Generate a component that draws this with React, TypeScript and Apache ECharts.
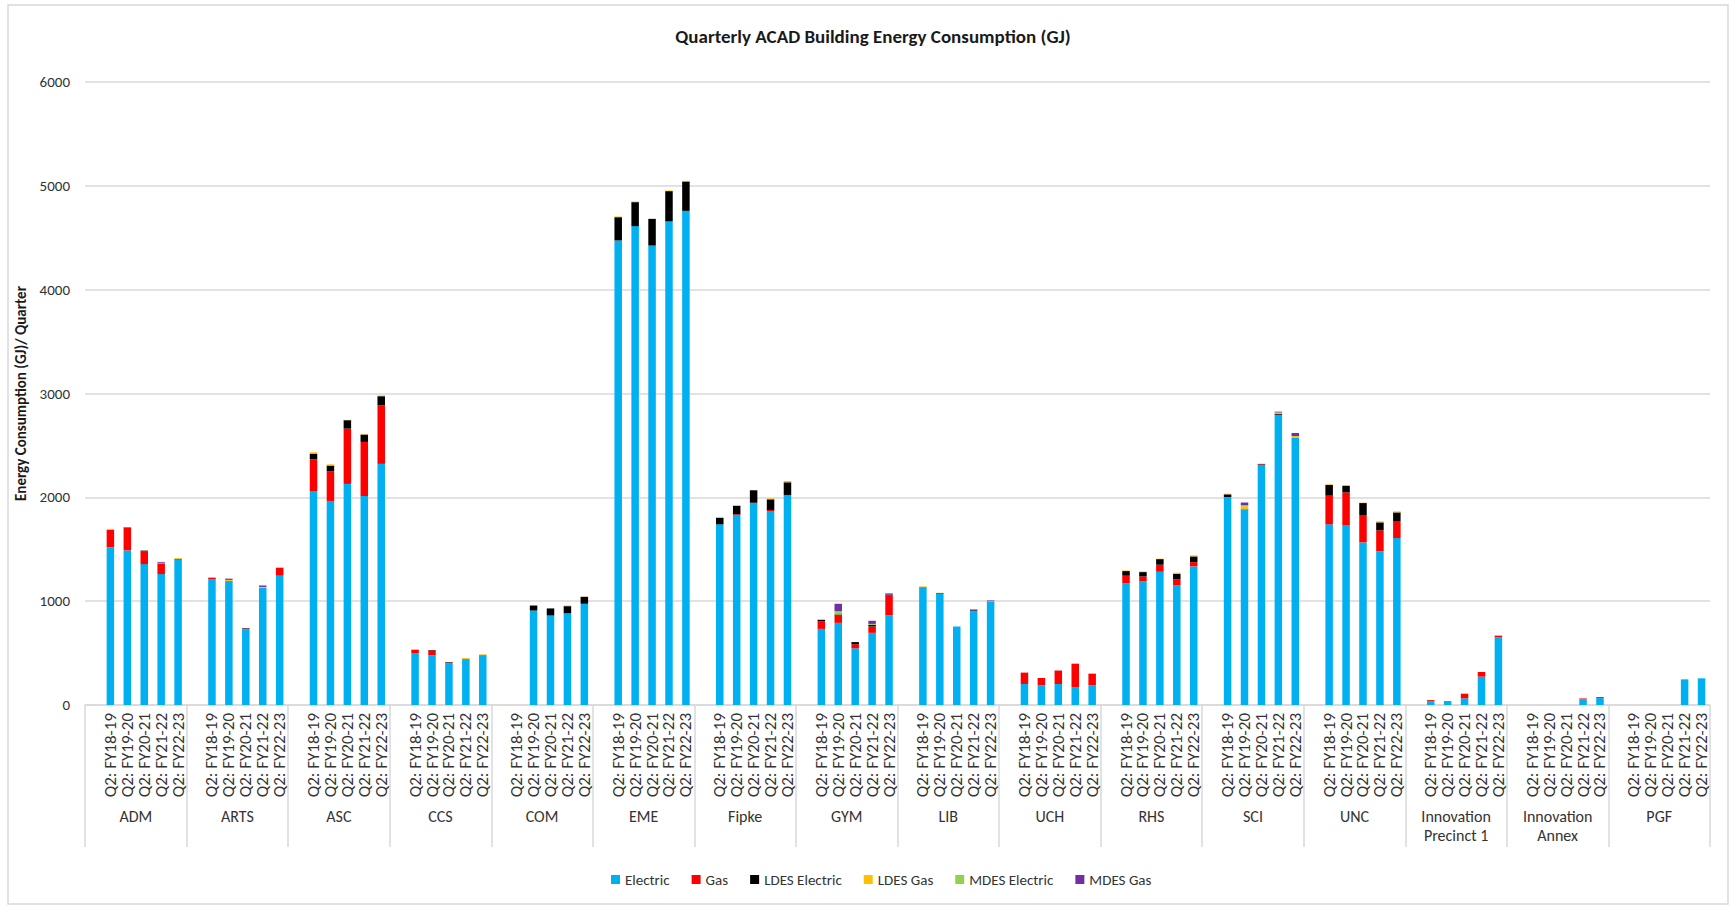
import React, { useEffect, useRef } from 'react';
import * as echarts from 'echarts';

const buildings = ['ADM', 'ARTS', 'ASC', 'CCS', 'COM', 'EME', 'Fipke', 'GYM', 'LIB', 'UCH', 'RHS', 'SCI', 'UNC', 'Innovation\nPrecinct 1', 'Innovation\nAnnex', 'PGF'];
const quarters = ['Q2: FY18-19', 'Q2: FY19-20', 'Q2: FY20-21', 'Q2: FY21-22', 'Q2: FY22-23'];
const yTicks = [0, 1000, 2000, 3000, 4000, 5000, 6000];

// one row per building, one value per quarter (GJ)
const electric = [
  [1520, 1489, 1357, 1261, 1399],
  [1209, 1190, 730, 1129, 1245],
  [2061, 1965, 2129, 2013, 2322],
  [500, 480, 400, 440, 478],
  [0, 910, 862, 885, 975],
  [4474, 4612, 4420, 4657, 4759],
  [1740, 1830, 1942, 1868, 2016],
  [733, 791, 546, 695, 865],
  [1132, 1071, 756, 904, 994],
  [202, 190, 202, 173, 190],
  [1174, 1193, 1283, 1155, 1335],
  [2003, 1881, 2312, 2794, 2576],
  [1740, 1730, 1566, 1479, 1608],
  [35, 38, 64, 273, 652],
  [0, 0, 0, 55, 67],
  [0, 0, 0, 247, 257],
];
const gas = [
  [168, 219, 122, 103, 8],
  [14, 5, 5, 0, 77],
  [306, 286, 533, 521, 565],
  [30, 45, 8, 5, 4],
  [0, 0, 0, 0, 0],
  [0, 0, 8, 0, 0],
  [0, 6, 6, 10, 7],
  [74, 71, 40, 62, 190],
  [4, 0, 0, 0, 0],
  [110, 70, 130, 225, 112],
  [71, 45, 68, 57, 41],
  [0, 5, 5, 0, 0],
  [276, 318, 264, 203, 164],
  [12, 0, 45, 45, 16],
  [0, 0, 0, 8, 9],
  [0, 0, 0, 0, 0],
];
const ldesElectric = [
  [0, 0, 8, 0, 0],
  [0, 0, 5, 0, 0],
  [54, 55, 81, 71, 87],
  [0, 5, 5, 0, 0],
  [0, 48, 68, 67, 67],
  [224, 231, 254, 292, 283],
  [61, 81, 120, 103, 122],
  [13, 10, 20, 14, 8],
  [0, 6, 0, 8, 0],
  [0, 0, 0, 0, 0],
  [45, 42, 54, 52, 55],
  [26, 0, 5, 8, 0],
  [103, 61, 115, 77, 83],
  [0, 0, 0, 0, 0],
  [0, 0, 0, 0, 0],
  [0, 0, 0, 0, 0],
];
const ldesGas = [
  [8, 0, 0, 0, 8],
  [10, 10, 0, 8, 6],
  [13, 12, 3, 6, 7],
  [8, 0, 0, 8, 6],
  [0, 0, 0, 6, 3],
  [7, 6, 0, 6, 6],
  [9, 9, 0, 9, 13],
  [6, 0, 0, 0, 0],
  [6, 4, 0, 0, 5],
  [0, 0, 0, 0, 0],
  [6, 6, 4, 10, 10],
  [6, 28, 0, 15, 14],
  [7, 10, 4, 10, 10],
  [0, 0, 0, 0, 0],
  [0, 0, 0, 0, 0],
  [0, 0, 0, 0, 0],
];
const mdesElectric = [
  [0, 0, 0, 6, 0],
  [0, 0, 0, 0, 0],
  [0, 0, 0, 0, 0],
  [0, 0, 0, 0, 0],
  [0, 0, 0, 0, 0],
  [0, 0, 0, 0, 0],
  [0, 0, 0, 0, 0],
  [0, 32, 0, 10, 0],
  [0, 0, 0, 0, 0],
  [0, 0, 0, 0, 0],
  [0, 0, 0, 0, 0],
  [0, 10, 0, 0, 0],
  [0, 0, 0, 0, 0],
  [0, 0, 0, 0, 0],
  [0, 0, 0, 0, 0],
  [0, 0, 0, 0, 0],
];
const mdesGas = [
  [0, 5, 0, 8, 0],
  [0, 12, 0, 14, 0],
  [0, 0, 0, 0, 0],
  [0, 0, 0, 0, 0],
  [0, 0, 0, 0, 0],
  [0, 0, 0, 0, 0],
  [0, 0, 0, 0, 0],
  [0, 71, 0, 30, 12],
  [0, 0, 0, 8, 8],
  [0, 0, 0, 0, 0],
  [0, 0, 0, 0, 0],
  [0, 26, 0, 8, 30],
  [0, 0, 0, 0, 0],
  [0, 0, 0, 0, 0],
  [0, 0, 0, 0, 0],
  [0, 0, 0, 0, 0],
];

const seriesNames = ['Electric', 'Gas', 'LDES Electric', 'LDES Gas', 'MDES Electric', 'MDES Gas'];
const seriesColors = ['#00B0F0', '#FF0000', '#000000', '#FFC000', '#92D050', '#7030A0'];
const seriesData = [electric, gas, ldesElectric, ldesGas, mdesElectric, mdesGas];

const FONT = 'Carlito, Lato, "Liberation Sans", sans-serif';
const TEXT = '#333333';
const LINE = '#d9d9d9';

export default function App() {
  const ref = useRef<HTMLDivElement>(null);
  useEffect(() => {
    document.body.style.margin = '0';
    const chart = echarts.init(ref.current!, null, { renderer: 'svg' });
    const slots: string[] = [];
    buildings.forEach(() => {
      slots.push('');
      quarters.forEach((q) => slots.push(q));
    });
    const toSlots = (rows: number[][]) => {
      const out: (number | null)[] = [];
      rows.forEach((r) => {
        out.push(null);
        r.forEach((v) => out.push(v));
      });
      return out;
    };
    chart.setOption({
      animation: false,
      textStyle: { fontFamily: FONT },
      grid: { left: 85, right: 22, top: 82, bottom: 203, containLabel: false },
      graphic: [
        {
          type: 'rect',
          silent: true,
          z: -10,
          shape: { x: 8, y: 5, width: 1720, height: 899 },
          style: { fill: 'none', stroke: LINE, lineWidth: 1.5 },
        },
        {
          type: 'text',
          x: 873,
          y: 36,
          style: {
            text: 'Quarterly ACAD Building Energy Consumption (GJ)',
            fontFamily: FONT,
            fontSize: 19,
            fontWeight: 'bold',
            fill: '#1a1a1a',
            textAlign: 'center',
            textVerticalAlign: 'middle',
          },
        },
      ],
      legend: {
        data: seriesNames,
        top: 867,
        left: 606,
        icon: 'rect',
        itemWidth: 9,
        itemHeight: 9,
        itemGap: 22,
        textStyle: { fontSize: 15, color: TEXT, fontFamily: FONT },
      },
      xAxis: [
        {
          type: 'category',
          data: slots,
          position: 'bottom',
          axisLine: { lineStyle: { color: LINE, width: 1.5 } },
          axisTick: { show: false },
          axisLabel: { interval: 0, rotate: 90, fontSize: 17, color: TEXT, margin: 8, fontFamily: FONT },
          splitLine: { show: false },
        },
        {
          type: 'category',
          data: buildings,
          position: 'bottom',
          axisLine: { show: false },
          axisTick: { show: true, interval: 0, length: 142, lineStyle: { color: LINE, width: 1.5 } },
          axisLabel: {
            interval: 0,
            margin: 102,
            fontSize: 16,
            lineHeight: 19,
            verticalAlign: 'top',
            color: TEXT,
            fontFamily: FONT,
          },
          splitLine: { show: false },
        },
      ],
      yAxis: {
        type: 'value',
        min: yTicks[0],
        max: yTicks[yTicks.length - 1],
        interval: 1000,
        axisLine: { show: false },
        axisTick: { show: false },
        axisLabel: { fontSize: 15, color: TEXT, margin: 15, fontFamily: FONT, formatter: (v: number) => String(v) },
        splitLine: { lineStyle: { color: LINE, width: 1.5 } },
        name: 'Energy Consumption (GJ)/ Quarter',
        nameLocation: 'middle',
        nameGap: 56,
        nameTextStyle: { fontWeight: 'bold', fontSize: 15, color: '#1a1a1a', fontFamily: FONT },
      },
      series: seriesNames.map((name, i) => ({
        name,
        type: 'bar',
        stack: 'total',
        xAxisIndex: 0,
        barWidth: 7.5,
        itemStyle: { color: seriesColors[i] },
        data: toSlots(seriesData[i]),
      })),
    });
    return () => chart.dispose();
  }, []);
  return <div ref={ref} style={{ width: 1732, height: 908 }} />;
}
